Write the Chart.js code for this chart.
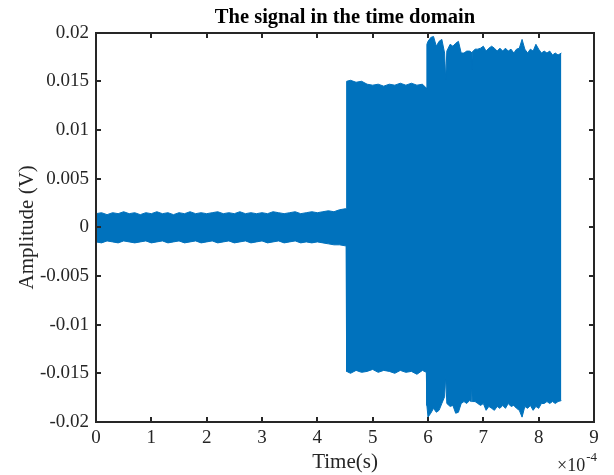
<!DOCTYPE html>
<html>
<head>
<meta charset="utf-8">
<script src="https://cdn.jsdelivr.net/npm/chart.js@4/dist/chart.umd.min.js"></script>
<style>
  html, body { margin: 0; padding: 0; background: #fff; }
  #wrap { width: 614px; height: 475px; }
</style>
</head>
<body>
<div id="wrap"><canvas id="sigChart" width="614" height="475"></canvas></div>
<script>
// tiempo en unidades de 1e-4 s (eje x con "x10^-4")
const timeE4 = [
  0, 0.1, 0.2, 0.3, 0.4, 0.5, 0.6, 0.7, 0.8, 0.9, 1.0, 1.1, 1.2, 1.3, 1.4, 1.5,
  1.6, 1.7, 1.8, 1.9, 2.0, 2.1, 2.2, 2.3, 2.4, 2.5, 2.6, 2.7, 2.8, 2.9, 3.0,
  3.1, 3.2, 3.3, 3.4, 3.5, 3.6, 3.7, 3.8, 3.9, 4.0, 4.1, 4.2, 4.3, 4.4, 4.5, 4.52,
  4.53, 4.6, 4.7, 4.8, 4.9, 5.0, 5.1, 5.2, 5.3, 5.4, 5.5, 5.6, 5.7, 5.8, 5.9, 5.97,
  5.98, 6.00, 6.05, 6.10, 6.15, 6.20, 6.25, 6.30, 6.32, 6.34, 6.40, 6.45, 6.50,
  6.55, 6.60, 6.65, 6.70, 6.75, 6.78, 6.79, 6.80, 6.85, 6.90, 6.95, 7.00, 7.05,
  7.10, 7.15, 7.20, 7.25, 7.30, 7.35, 7.40, 7.45, 7.50, 7.55, 7.60, 7.65, 7.70,
  7.75, 7.80, 7.85, 7.90, 7.95, 8.00, 8.05, 8.10, 8.15, 8.20, 8.25, 8.30, 8.35, 8.41
];

// envolvente superior de la señal (V)
const upperEnv = [
  0.0014, 0.0015, 0.0013, 0.0015, 0.0014, 0.0016, 0.0014, 0.0015, 0.0013, 0.0015,
  0.0014, 0.0016, 0.0014, 0.0015, 0.0013, 0.0015, 0.0014, 0.0016, 0.0014, 0.0015,
  0.0014, 0.0015, 0.0016, 0.0014, 0.0015, 0.0014, 0.0016, 0.0014, 0.0015, 0.0014,
  0.0015, 0.0014, 0.0016, 0.0015, 0.0014, 0.0015, 0.0016, 0.0014, 0.0015, 0.0016,
  0.0015, 0.0016, 0.0017, 0.0016, 0.0018, 0.0019, 0.0019,
  0.0150, 0.0151, 0.0149, 0.0150, 0.0147, 0.0146, 0.0147, 0.0145, 0.0147, 0.0146,
  0.0148, 0.0146, 0.0148, 0.0146, 0.0147, 0.0143,
  0.0188, 0.0191, 0.0195, 0.0196, 0.0186, 0.0191, 0.0193, 0.0179, 0.0152, 0.0181,
  0.0188, 0.0186, 0.0189, 0.0191, 0.0179, 0.0179, 0.0181, 0.0181, 0.0180, 0.0162,
  0.0180, 0.0183, 0.0183, 0.0184, 0.0186, 0.0181, 0.0184, 0.0186, 0.0184, 0.0181,
  0.0184, 0.0181, 0.0184, 0.0181, 0.0183, 0.0179, 0.0183, 0.0184, 0.0193, 0.0183,
  0.0179, 0.0183, 0.0181, 0.0188, 0.0183, 0.0179, 0.0181, 0.0179, 0.0181, 0.0177,
  0.0179, 0.0177, 0.0179
];

// envolvente inferior de la señal (V)
const lowerEnv = [
  -0.0015, -0.0016, -0.0014, -0.0015, -0.0016, -0.0014, -0.0015, -0.0016, -0.0015, -0.0014,
  -0.0016, -0.0015, -0.0014, -0.0016, -0.0015, -0.0014, -0.0016, -0.0015, -0.0014, -0.0016,
  -0.0015, -0.0014, -0.0016, -0.0015, -0.0014, -0.0016, -0.0015, -0.0014, -0.0016, -0.0015,
  -0.0014, -0.0016, -0.0015, -0.0014, -0.0016, -0.0015, -0.0014, -0.0016, -0.0015, -0.0016,
  -0.0015, -0.0016, -0.0017, -0.0018, -0.0018, -0.0019, -0.0019,
  -0.0148, -0.0150, -0.0147, -0.0149, -0.0148, -0.0146, -0.0149, -0.0147, -0.0148, -0.0150,
  -0.0147, -0.0149, -0.0148, -0.0151, -0.0147, -0.0149,
  -0.0183, -0.0195, -0.0191, -0.0186, -0.0190, -0.0188, -0.0181, -0.0174, -0.0153, -0.0181,
  -0.0184, -0.0183, -0.0191, -0.0190, -0.0181, -0.0179, -0.0181, -0.0178, -0.0179, -0.0165,
  -0.0179, -0.0179, -0.0181, -0.0183, -0.0181, -0.0188, -0.0184, -0.0186, -0.0188, -0.0184,
  -0.0186, -0.0183, -0.0186, -0.0181, -0.0184, -0.0183, -0.0186, -0.0188, -0.0195, -0.0184,
  -0.0186, -0.0183, -0.0188, -0.0184, -0.0186, -0.0181, -0.0181, -0.0179, -0.0181, -0.0179,
  -0.0181, -0.0179, -0.0178
];

const xTicks = [0, 1, 2, 3, 4, 5, 6, 7, 8, 9];
const yTicks = [-0.02, -0.015, -0.01, -0.005, 0, 0.005, 0.01, 0.015, 0.02];

const lineBlue = '#0072BD';
const axisColor = '#262626';
const serif = "'Liberation Serif', 'Times New Roman', serif";

// Caja estilo MATLAB con marcas hacia adentro y el factor x10^-4
const matlabBox = {
  id: 'matlabBox',
  afterDraw(chart) {
    const g = chart.ctx;
    const xs = chart.scales.x;
    const ys = chart.scales.y;
    const len = 5;
    const lw = 2;
    const L = Math.round(xs.getPixelForValue(0));
    const R = Math.round(xs.getPixelForValue(9));
    const T = Math.round(ys.getPixelForValue(0.02));
    const B = Math.round(ys.getPixelForValue(-0.02));
    g.save();
    g.fillStyle = axisColor;
    g.fillRect(L - 1, T - 1, R - L + lw, lw);
    g.fillRect(L - 1, B - 1, R - L + lw, lw);
    g.fillRect(L - 1, T - 1, lw, B - T + lw);
    g.fillRect(R - 1, T - 1, lw, B - T + lw);
    xTicks.forEach(v => {
      const px = Math.round(xs.getPixelForValue(v));
      g.fillRect(px - 1, B - len, lw, len);
      g.fillRect(px - 1, T, lw, len);
    });
    yTicks.forEach(v => {
      const py = Math.round(ys.getPixelForValue(v));
      g.fillRect(L, py - 1, len, lw);
      g.fillRect(R - len, py - 1, len, lw);
    });

    // exponente del eje x
    g.textBaseline = 'alphabetic';
    g.textAlign = 'left';
    g.font = '18px ' + serif;
    const base = '\u00d710';
    const bx = R - 37;
    g.fillText(base, bx, 471);
    const w = g.measureText(base).width;
    g.font = '13px ' + serif;
    g.fillText('-4', bx + w + 1, 461);
    g.restore();
  }
};

const ctx = document.getElementById('sigChart').getContext('2d');
const chart = new Chart(ctx, {
  type: 'line',
  data: {
    datasets: [
      {
        label: 'upper',
        data: timeE4.map((t, i) => ({ x: t, y: upperEnv[i] })),
        borderColor: lineBlue,
        backgroundColor: lineBlue,
        borderWidth: 1,
        pointRadius: 0,
        tension: 0,
        fill: '+1'
      },
      {
        label: 'lower',
        data: timeE4.map((t, i) => ({ x: t, y: lowerEnv[i] })),
        borderColor: lineBlue,
        backgroundColor: lineBlue,
        borderWidth: 1,
        pointRadius: 0,
        tension: 0,
        fill: false
      }
    ]
  },
  options: {
    responsive: false,
    animation: false,
    layout: { padding: { left: 0, right: 20, top: 0, bottom: 0 } },
    plugins: {
      legend: { display: false },
      tooltip: { enabled: false },
      title: {
        display: true,
        fullSize: false,
        text: 'The signal in the time domain',
        color: '#000',
        font: { family: serif, size: 20.5, weight: 'bold' },
        padding: { top: 5, bottom: 3 }
      }
    },
    scales: {
      x: {
        type: 'linear',
        min: 0,
        max: 9,
        afterBuildTicks: s => { s.ticks = xTicks.map(v => ({ value: v })); },
        afterFit: s => { s.height = 53; },
        grid: { display: false, drawTicks: false },
        border: { display: false },
        ticks: {
          color: axisColor,
          padding: 5,
          maxRotation: 0,
          font: { family: serif, size: 19 },
          callback: v => String(v)
        },
        title: {
          display: true,
          text: 'Time(s)',
          color: axisColor,
          font: { family: serif, size: 21 },
          padding: { top: 0, bottom: 0 }
        }
      },
      y: {
        min: -0.02,
        max: 0.02,
        afterBuildTicks: s => { s.ticks = yTicks.map(v => ({ value: v })); },
        afterFit: s => { s.width = 96; },
        grid: { display: false, drawTicks: false },
        border: { display: false },
        ticks: {
          color: axisColor,
          padding: 7,
          font: { family: serif, size: 19 },
          callback: v => String(+v.toFixed(3))
        },
        title: {
          display: true,
          text: 'Amplitude (V)',
          color: axisColor,
          font: { family: serif, size: 21 },
          padding: { top: 15, bottom: 0 }
        }
      }
    }
  },
  plugins: [matlabBox]
});
</script>
</body>
</html>
